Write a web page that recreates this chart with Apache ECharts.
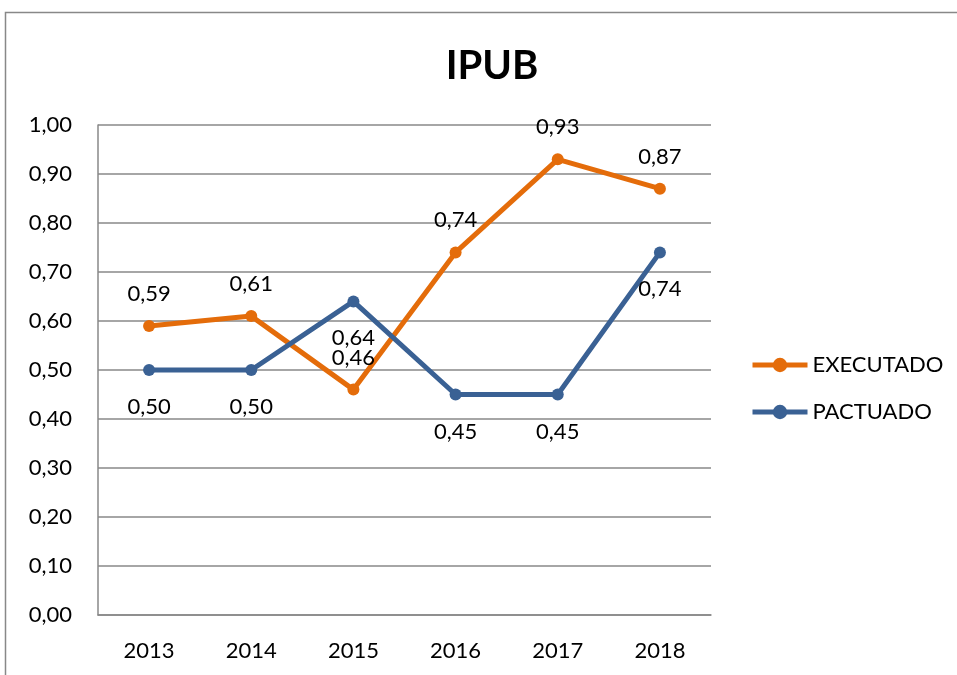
<!DOCTYPE html>
<html>
<head>
<meta charset="utf-8">
<script src="https://cdn.jsdelivr.net/npm/echarts@6/dist/echarts.min.js"></script>
<style>
  html, body { margin: 0; padding: 0; background: #fff; overflow: hidden; }
  #chart { width: 957px; height: 675px; }
</style>
</head>
<body>
<div id="chart"></div>
<script>
var years = ['2013', '2014', '2015', '2016', '2017', '2018'];
var executado = [0.59, 0.61, 0.46, 0.74, 0.93, 0.87];
var pactuado = [0.50, 0.50, 0.64, 0.45, 0.45, 0.74];

(function () {
    var myChart = echarts.init(document.querySelector('#chart'));
    var fmt = function (v) { return v.toFixed(2).replace('.', ','); };
    var font = 'Lato, "Liberation Sans", sans-serif';
    myChart.setOption({
        animation: false,
        textStyle: { fontFamily: font },
        color: ['#E46C0A', '#3A6194'],
        title: {
            text: 'IPUB',
            left: 487,
            textAlign: 'center',
            top: 41,
            textStyle: { fontSize: 40, fontWeight: 'bold', color: '#000', fontFamily: font }
        },
        graphic: [{
            type: 'polyline',
            shape: { points: [[5.5, 700], [5.5, 12.5], [1000, 12.5]] },
            style: { fill: null, stroke: '#888', lineWidth: 1.5 },
            silent: true
        }],
        legend: {
            orient: 'vertical',
            left: 745,
            top: 349,
            itemGap: 25,
            itemWidth: 55,
            itemHeight: 18,
            lineStyle: { width: 5 },
            textStyle: { fontSize: 22, color: '#000', fontFamily: font },
            data: ['EXECUTADO', 'PACTUADO']
        },
        grid: {
            left: 98,
            right: 246,
            top: 125,
            bottom: 60
        },
        xAxis: [{
            type: 'category',
            boundaryGap: true,
            data: years,
            axisLine: { lineStyle: { color: '#888', width: 1.5 } },
            axisTick: { show: false },
            axisLabel: { fontSize: 22, color: '#000', margin: 25 }
        }],
        yAxis: [{
            type: 'value',
            min: 0,
            max: 1,
            interval: 0.1,
            axisLine: { show: true, lineStyle: { color: '#888', width: 1.5 } },
            axisTick: { show: false },
            splitLine: { lineStyle: { color: '#888', width: 1.5 } },
            axisLabel: { fontSize: 22, color: '#000', margin: 26, formatter: fmt }
        }],
        series: [{
            name: 'EXECUTADO',
            type: 'line',
            data: executado,
            symbol: 'circle',
            symbolSize: 12,
            lineStyle: { width: 5 },
            label: {
                show: true,
                position: 'top',
                distance: 15,
                fontSize: 22,
                color: '#000',
                formatter: function (p) { return fmt(p.value); }
            }
        }, {
            name: 'PACTUADO',
            type: 'line',
            data: pactuado,
            symbol: 'circle',
            symbolSize: 12,
            lineStyle: { width: 5 },
            label: {
                show: true,
                position: 'bottom',
                distance: 20,
                fontSize: 22,
                color: '#000',
                formatter: function (p) { return fmt(p.value); }
            }
        }]
    });
})();
</script>
</body>
</html>
